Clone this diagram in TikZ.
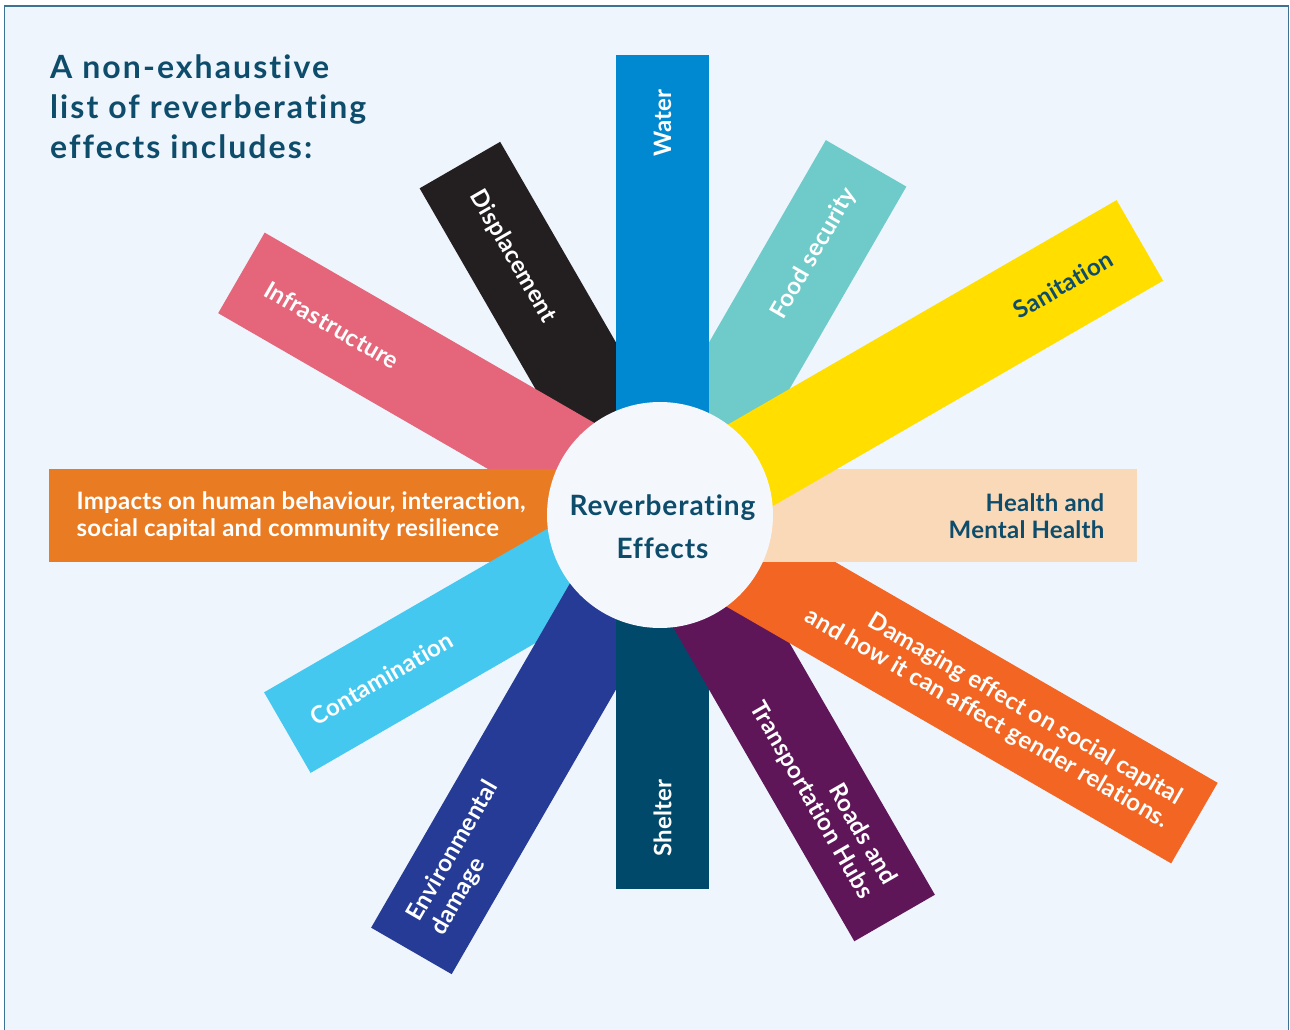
\documentclass[tikz,border=0pt]{standalone}
\usepackage{fontspec}
\setmainfont{Lato}[Ligatures=NoCommon]
\newfontfamily\lblfont{Lato}[LetterSpace=1.0, Ligatures=NoCommon]
\newfontfamily\titlefont{Lato}[LetterSpace=6.5, Ligatures=NoCommon]
\newfontfamily\hubfont{Lato}[LetterSpace=3.3, Ligatures=NoCommon]
\usepackage{tikz}

\definecolor{pagebg}{HTML}{EFF5FC}
\definecolor{framecol}{HTML}{3C7394}
\definecolor{hubfill}{HTML}{F4F8FC}
\definecolor{ink}{HTML}{0D4C6B}
\definecolor{watercol}{HTML}{0089D0}
\definecolor{foodcol}{HTML}{6FCBC9}
\definecolor{sanitcol}{HTML}{FFDE00}
\definecolor{healthcol}{HTML}{FAD9B8}
\definecolor{damagecol}{HTML}{F26522}
\definecolor{roadscol}{HTML}{5F1659}
\definecolor{sheltercol}{HTML}{00496A}
\definecolor{envcol}{HTML}{253B96}
\definecolor{contamcol}{HTML}{44C8EF}
\definecolor{impactcol}{HTML}{E97B22}
\definecolor{infracol}{HTML}{E5667A}
\definecolor{displcol}{HTML}{231F20}

\begin{document}
\begin{tikzpicture}[x=1pt, y=1pt,
        bar/.style={rectangle, draw=none, inner sep=0pt, minimum height=93, anchor=west},
        lbl/.style={inner sep=0pt, text=white, font=\lblfont\bfseries\fontsize{24}{27}\selectfont},
        hub/.style={circle, fill=hubfill, minimum size=226, inner sep=0pt}]

    \useasboundingbox (-660,-515) rectangle (630,515);

    % Frame
    \draw[framecol, line width=1.5, fill=pagebg] (-655.5,-530) rectangle (628.5,509);

    % Title
    \node[anchor=north west, inner sep=0pt, align=left, text=ink,
          font=\titlefont\bfseries\fontsize{32}{40}\selectfont] (title) at (-610,460)
        {A non-exhaustive\\list of reverberating\\effects includes:};

    \begin{scope}[shift={(2.5,-1)}]
    % Bars, from back to front
    \node[bar, fill=foodcol, minimum width=407, rotate=60] (food) at (0,0) {};
    \node[bar, fill=displcol, minimum width=405, rotate=120] (displ) at (0,0) {};
    \node[bar, fill=infracol, minimum width=486, rotate=150] (infra) at (0,0) {};
    \node[bar, fill=impactcol, minimum width=613, rotate=180] (impact) at (0,0) {};
    \node[bar, fill=contamcol, minimum width=433, rotate=210] (contam) at (0,0) {};
    \node[bar, fill=envcol, minimum width=502, rotate=240] (env) at (0,0) {};
    \node[bar, fill=sheltercol, minimum width=373, rotate=270] (shelter) at (0,0) {};
    \node[bar, fill=roadscol, minimum width=464, rotate=300] (roads) at (0,0) {};
    \node[bar, fill=damagecol, minimum width=614, rotate=330] (damage) at (0,0) {};
    \node[bar, fill=healthcol, minimum width=474] (health) at (0,0) {};
    \node[bar, fill=sanitcol, minimum width=551, rotate=30] (sanit) at (0,0) {};
    \node[bar, fill=watercol, minimum width=461, rotate=90] (water) at (0,0) {};

    % Labels
    \node[lbl, rotate=90, anchor=east] (water-lbl) at (90:427) {Water};
    \node[lbl, rotate=60, anchor=east] (food-lbl) at (60:377) {Food security};
    \node[lbl, rotate=30, anchor=east, text=ink] (sanit-lbl) at (30:518) {Sanitation};
    \node[lbl, anchor=east, align=right, text=ink] (health-lbl) at (0:442)
        {Health and\\Mental Health};
    \node[lbl, rotate=-30, anchor=east, align=right] (damage-lbl) at (330:590)
        {Damaging effect on social capital\\and how it can affect gender relations.};
    \node[lbl, rotate=-60, anchor=east, align=right] (roads-lbl) at (300:432)
        {Roads and\\Transportation Hubs};
    \node[lbl, rotate=90, anchor=west] (shelter-lbl) at (270:341) {Shelter};
    \node[lbl, rotate=60, anchor=west, align=left] (env-lbl) at (240:474)
        {Environmental\\damage};
    \node[lbl, rotate=30, anchor=west] (contam-lbl) at (210:405) {Contamination};
    \node[lbl, anchor=west, align=left] (impact-lbl) at (180:586)
        {Impacts on human behaviour, interaction,\\social capital and community resilience};
    \node[lbl, rotate=-30, anchor=west] (infra-lbl) at (150:457) {Infrastructure};
    \node[lbl, rotate=-60, anchor=west] (displ-lbl) at (120:374) {Displacement};
    \end{scope}

    % Hub
    \node[hub] (hub) at (0,0) {};
    \node[inner sep=0pt, align=center, text=ink, font=\hubfont\bfseries\fontsize{28}{43}\selectfont]
        (hub-lbl) at (2.5,-12) {Reverberating\\Effects};
\end{tikzpicture}
\end{document}
